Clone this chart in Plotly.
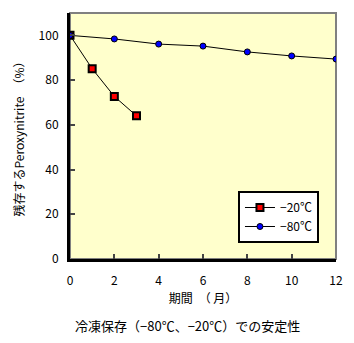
import plotly.graph_objects as go

months_20 = [0, 1, 2, 3]
vals_20 = [100, 85.1, 72.7, 64.0]
months_80 = [0, 2, 4, 6, 8, 10, 12]
vals_80 = [100, 98.4, 96.1, 95.2, 92.6, 90.8, 89.4]
x_ticks = [0, 2, 4, 6, 8, 10, 12]
y_ticks = [0, 20, 40, 60, 80, 100]

FONT = "Noto Sans CJK JP"

fig = go.Figure()
fig.add_trace(go.Scatter(
    x=months_20, y=vals_20, name="−20℃", mode="lines+markers",
    line=dict(color="black", width=1),
    marker=dict(symbol="square", size=7, color="#FF0000", line=dict(color="black", width=2)),
))
fig.add_trace(go.Scatter(
    x=months_80, y=vals_80, name="−80℃", mode="lines+markers",
    line=dict(color="black", width=1),
    marker=dict(symbol="circle", size=6, color="#0000FF", line=dict(color="black", width=1)),
))

fig.update_layout(
    width=354, height=343,
    margin=dict(l=70, r=18, t=13, b=84),
    paper_bgcolor="white",
    plot_bgcolor="#FFFFCC",
    font=dict(family=FONT, size=12, color="black"),
    showlegend=True,
    legend=dict(
        x=0.936, xanchor="right", y=0.065, yanchor="bottom",
        bgcolor="white", bordercolor="black", borderwidth=2,
        font=dict(size=12, family=FONT), tracegroupgap=0, itemwidth=30,
    ),
    shapes=[dict(type="rect", xref="paper", yref="paper", x0=0, x1=1, y0=0, y1=1,
                 line=dict(color="#808080", width=2), layer="below")],
    annotations=[
        dict(text="冷凍保存（−80℃、−20℃）での安定性", xref="paper", yref="paper",
             x=0.44, y=-0.27, xanchor="center", yanchor="middle", showarrow=False,
             font=dict(size=13, family=FONT)),
    ],
)
fig.update_xaxes(
    range=[0, 12], tickvals=x_ticks, ticks="inside", ticklen=5, tickwidth=2,
    showline=True, linecolor="black", linewidth=3, showgrid=False, zeroline=False,
    title=dict(text="期間　（ 月）", font=dict(size=12, family=FONT), standoff=8),
    tickfont=dict(size=12, family=FONT), ticklabelstandoff=9,
)
fig.update_yaxes(
    range=[0, 110], tickvals=y_ticks, ticks="inside", ticklen=5, tickwidth=2,
    showline=True, linecolor="black", linewidth=3, showgrid=False, zeroline=False,
    title=dict(text="残存するPeroxynitrite　（%）", font=dict(size=12, family=FONT), standoff=12),
    tickfont=dict(size=12, family=FONT), ticklabelstandoff=6,
)

fig.write_html("out.html")
